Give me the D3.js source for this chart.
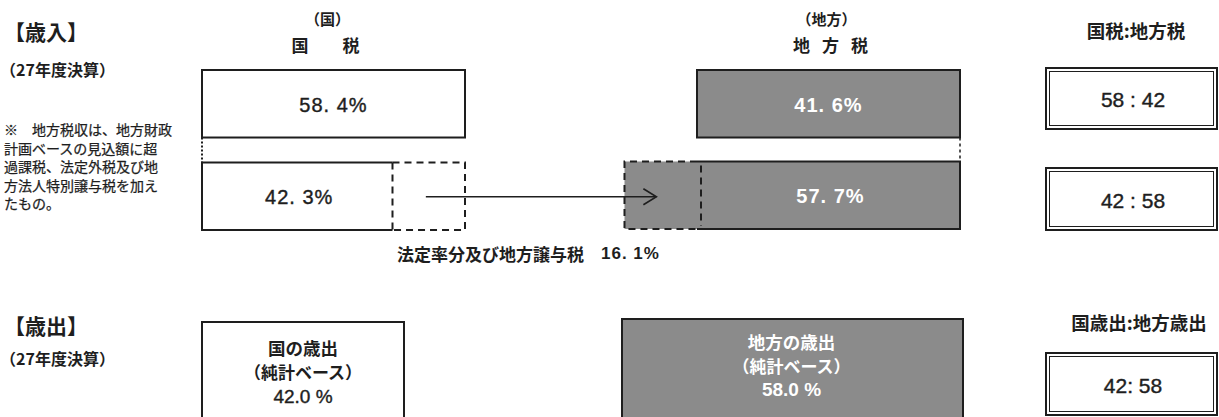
<!DOCTYPE html>
<html><head><meta charset="utf-8">
<script src="https://cdn.jsdelivr.net/npm/d3@7"></script>
<style>
html,body{margin:0;padding:0;background:#fff;}
svg{display:block;font-family:"Noto Sans CJK JP","Noto Sans",sans-serif;}
</style></head>
<body>
<script>
// ---- data ----
const sideHeaders = ["（国）", "（地方）"];
const sideTitles = [["国", "税"], ["地", "方", "税"]];
const revenueBefore = [58.4, 41.6];   // 国税, 地方税 (before transfer)
const revenueAfter = [42.3, 57.7];    // after transfer
const transferShare = 16.1;          // 法定率分及び地方譲与税
const transferLabel = "法定率分及び地方譲与税";
const ratioTitles = ["国税:地方税", "国歳出:地方歳出"];
const ratioBefore = [58, 42];
const ratioAfter = [42, 58];
const expenditureLabels = ["国の歳出", "地方の歳出"];
const expenditureShare = [42.0, 58.0];
const expenditureRatio = [42, 58];
const noteLines = ["※　地方税収は、地方財政", "計画ベースの見込額に超", "過課税、法定外税及び地", "方法人特別譲与税を加え", "たもの。"];

const W = 1219, H = 417;
const ink = "#1e1e1e", grey = "#8b8b8b";
const numFont = "'Liberation Sans','Noto Sans CJK JP',sans-serif";
const svg = d3.select("body").append("svg").attr("width", W).attr("height", H);

const fmtPct = v => d3.format(".1f")(v).replace(".", ". ") + "%";

// scales
const xN = d3.scaleLinear().domain([0, revenueBefore[0]]).range([202, 465]);     // national side
const xL = d3.scaleLinear().domain([0, revenueBefore[1]]).range([960, 697]);     // local side (right anchored)
const tW = xN(transferShare) - xN(0);
const row = d3.scaleBand().domain(["before", "after"]).range([70, 230]).paddingInner(0.27);
const expW = d3.scaleLinear().domain([expenditureShare[0], expenditureShare[1]]).range([202, 341]);

function t(x, y, s, size, opts = {}) {
  const el = svg.append("text").attr("x", x).attr("y", y).text(s)
    .attr("font-size", size).attr("font-weight", opts.w || "bold")
    .attr("fill", opts.fill || ink).attr("text-anchor", opts.a || "start")
    .attr("dominant-baseline", "central");
  if (opts.num) el.attr("font-family", numFont);
  if (opts.ls) el.attr("letter-spacing", opts.ls);
  if (opts.stroke) el.attr("stroke", opts.fill || ink).attr("stroke-width", opts.stroke);
  return el;
}

// ---- left labels ----
t(4, 31, "【歳入】", 21);
t(0, 69, "（27年度決算）", 16);
noteLines.forEach((s, i) => t(4, 129 + i * 18.5, s, 14, {w: "normal", stroke: 0.25}));
t(4, 325, "【歳出】", 21);
t(0, 358, "（27年度決算）", 16);

// ---- headers ----
const centers = [(xN(0) + xN(revenueBefore[0])) / 2, (xL(0) + xL(revenueBefore[1])) / 2];
sideHeaders.forEach((s, i) => t(centers[i] - 6 + i * 4, 18, s, 15, {a: "middle"}));
const gaps = [51, 29];
sideTitles.forEach((chars, i) => {
  const c = centers[i] - 8 + i * 10;
  chars.forEach((ch, j) => t(c + (j - (chars.length - 1) / 2) * gaps[i], 44, ch, 17, {a: "middle"}));
});

// ---- top row ----
const y0 = row("before"), h = row.bandwidth();
svg.append("rect").attr("x", xN(0)).attr("y", y0).attr("width", xN(revenueBefore[0]) - xN(0)).attr("height", h)
  .attr("fill", "#fff").attr("stroke", ink).attr("stroke-width", 2);
svg.append("rect").attr("x", xL(revenueBefore[1])).attr("y", y0).attr("width", xL(0) - xL(revenueBefore[1])).attr("height", h)
  .attr("fill", grey).attr("stroke", ink).attr("stroke-width", 2);
t(centers[0], y0 + h / 2 + 1, fmtPct(revenueBefore[0]), 20, {a: "middle", w: "normal", num: true, stroke: 0.4, ls: 1});
t(centers[1], y0 + h / 2 + 1, fmtPct(revenueBefore[1]), 20, {a: "middle", fill: "#fff", num: true, ls: 1});

// connectors
const y1 = row("after");
svg.append("line").attr("x1", xN(0)).attr("x2", xN(0)).attr("y1", y0 + h).attr("y2", y1)
  .attr("stroke", ink).attr("stroke-width", 2).attr("stroke-dasharray", "2,2");
svg.append("line").attr("x1", xL(0)).attr("x2", xL(0)).attr("y1", y0 + h).attr("y2", y1)
  .attr("stroke", ink).attr("stroke-width", 1.5).attr("stroke-dasharray", "3,3");

// ---- second row: national ----
const nSplit = xN(revenueAfter[0]);
svg.append("path").attr("d", `M${nSplit},${y1}H${xN(0)}V${y1 + h}H${nSplit}`)
  .attr("fill", "none").attr("stroke", ink).attr("stroke-width", 2);
svg.append("path").attr("d", `M${nSplit},${y1}H${nSplit + tW}V${y1 + h}H${nSplit}`)
  .attr("fill", "none").attr("stroke", ink).attr("stroke-width", 2).attr("stroke-dasharray", "7,5");
svg.append("line").attr("x1", nSplit).attr("x2", nSplit).attr("y1", y1).attr("y2", y1 + h)
  .attr("stroke", ink).attr("stroke-width", 2).attr("stroke-dasharray", "7,5");
t((xN(0) + nSplit) / 2 + 2, y1 + h / 2 + 1, fmtPct(revenueAfter[0]), 20, {a: "middle", w: "normal", num: true, stroke: 0.4, ls: 1});

// ---- second row: local ----
const lSplit = xL(revenueBefore[1]);
const lLeft = lSplit - tW;
svg.append("rect").attr("x", lLeft).attr("y", y1 - 1).attr("width", xL(0) - lLeft).attr("height", h).attr("fill", grey);
svg.append("path").attr("d", `M${lSplit},${y1 - 1}H${xL(0)}V${y1 - 1 + h}H${lSplit}`)
  .attr("fill", "none").attr("stroke", ink).attr("stroke-width", 2);
svg.append("path").attr("d", `M${lSplit},${y1 - 1}H${lLeft}V${y1 - 1 + h}H${lSplit}`)
  .attr("fill", "none").attr("stroke", ink).attr("stroke-width", 2).attr("stroke-dasharray", "7,5");
svg.append("line").attr("x1", lSplit + 4).attr("x2", lSplit + 4).attr("y1", y1 + 3).attr("y2", y1 + h - 4)
  .attr("stroke", ink).attr("stroke-width", 2).attr("stroke-dasharray", "7,5");
t((lSplit + xL(0)) / 2 + 2, y1 + h / 2, fmtPct(revenueAfter[1]), 20, {a: "middle", fill: "#fff", num: true, ls: 1});

// arrow
const ay = y1 + h / 2 + 0.5;
const ax0 = nSplit + tW * 0.46, ax1 = lLeft + tW * 0.44;
svg.append("line").attr("x1", ax0).attr("x2", ax1).attr("y1", ay).attr("y2", ay).attr("stroke", ink).attr("stroke-width", 1.6);
svg.append("path").attr("d", `M${ax1 - 13},${ay - 8}L${ax1},${ay}L${ax1 - 13},${ay + 8}`)
  .attr("fill", "none").attr("stroke", ink).attr("stroke-width", 1.6);

const lab = svg.append("text").attr("x", 397).attr("y", 253).attr("dominant-baseline", "central")
  .attr("font-size", 17).attr("font-weight", "bold").attr("fill", ink);
lab.append("tspan").text(transferLabel + "　");
lab.append("tspan").attr("font-family", numFont).attr("letter-spacing", 1).text(fmtPct(transferShare));

// ---- ratio boxes ----
function dbox(x, y, w, hh) {
  svg.append("rect").attr("x", x).attr("y", y).attr("width", w).attr("height", hh)
    .attr("fill", "#fff").attr("stroke", ink).attr("stroke-width", 2);
  svg.append("rect").attr("x", x + 3.5).attr("y", y + 3.5).attr("width", w - 7).attr("height", hh - 7)
    .attr("fill", "none").attr("stroke", ink).attr("stroke-width", 1);
}
const rx = 1046, rw = 171, rc = 1133;
t(1136, 30, ratioTitles[0], 18.5, {a: "middle"});
dbox(rx, 68, rw, 61); t(rc, 99, ratioBefore.join(" : "), 21, {a: "middle", w: "normal", num: true, stroke: 0.4});
dbox(rx, 168, rw, 62); t(rc, 200, ratioAfter.join(" : "), 21, {a: "middle", w: "normal", num: true, stroke: 0.4});
t(1139, 322, ratioTitles[1], 18.5, {a: "middle"});
dbox(rx, 353, rw, 62); t(rc, 385, expenditureRatio.join(": "), 21, {a: "middle", w: "normal", num: true, stroke: 0.4});

// ---- expenditure boxes ----
const eX = [202, 963 - expW(expenditureShare[1])];
const eY = [322, 319];
const eDy = [[347, 371, 396], [341, 365, 389]];
expenditureShare.forEach((v, i) => {
  const w = expW(v);
  svg.append("rect").attr("x", eX[i]).attr("y", eY[i]).attr("width", w).attr("height", 120)
    .attr("fill", i ? grey : "#fff").attr("stroke", ink).attr("stroke-width", 2);
  const cx = eX[i] + w / 2 + (i ? -1 : 0);
  const col = i ? "#fff" : ink;
  t(cx, eDy[i][0], expenditureLabels[i], 17.5, {a: "middle", fill: col});
  t(cx, eDy[i][1], "（純計ベース）", 17, {a: "middle", fill: col});
  t(cx, eDy[i][2], d3.format(".1f")(v) + " %", 19, {a: "middle", fill: col, num: true, w: i ? "bold" : "normal", stroke: i ? 0 : 0.4});
});
</script>
</body></html>
